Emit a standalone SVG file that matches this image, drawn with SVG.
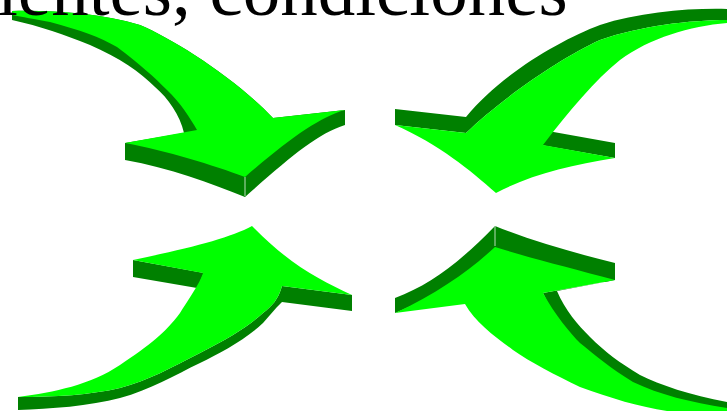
<svg xmlns="http://www.w3.org/2000/svg" width="727" height="411" viewBox="0 0 727 411">
<style>
.top{fill:#00ff00}
.side{fill:#008000}
.edge{stroke:#b8dcb8;stroke-width:1;fill:none}
.title{font-family:"Liberation Serif","Times New Roman",serif;font-size:75px;fill:#000}
</style>
<rect width="727" height="411" fill="#fff"/>
<g id="arrow-top-left">
<path class="side" d="M12,11 C50,10 100,13 140,25 C175,40 235,78 273,118 L345,110 L345,125 C317,134 290,157 245,197 C210,183 170,168 125,160 L125,143 L184,133 C180,115 168,98 155,87 C140,72 120,58 90,45 C65,35 40,26 12,20 Z"/>
<path class="top" d="M12,11 C50,10 100,13 140,25 C175,40 235,78 273,118 L345,110 C320,117 290,138 245,177 C213,165 167,151 125,143 L197,130 C190,118 180,102 167,90 C155,78 140,64 117,47 C100,37 80,30 50,22 C35,19 22,17 12,15 Z"/>
<path class="edge" d="M245,177 L245,196"/>
</g>
<g id="arrow-top-right">
<path class="side" d="M727,9 C690,8 640,12 600,25 C560,40 500,75 466,117 L395,109 L395,125 L466,133 C500,100 560,58 600,40 C640,26 690,20 727,20 Z"/>
<path class="side" d="M548,131 L615,143 L615,158 L541,145 Z"/>
<path class="top" d="M466,133 C500,100 560,58 600,40 C640,26 690,20 727,20 L727,23 C690,26 650,38 620,60 C595,80 570,110 543,145 L615,158 C570,165 530,175 496,193 C470,170 440,145 395,125 Z"/>
</g>
<g id="arrow-bottom-left">
<path class="side" d="M133,260 L133,277 L197,288 L204,273 Z"/>
<path class="side" d="M18,397 L18,410 C50,409 90,406 120,398 C150,390 175,375 200,363 C220,353 245,340 263,323 L277,307 L282,302 L352,311 L352,295 L282,286 C278,300 272,306 263,313 C250,325 230,338 200,353 C170,368 150,380 120,388 C90,395 55,397 18,397 Z"/>
<path class="top" d="M252,226 C230,238 190,248 133,260 L203,273 C200,282 195,290 180,313 C165,333 150,345 120,365 C90,385 55,392 18,397 C55,397 90,395 120,388 C150,380 170,368 200,353 C230,338 250,325 263,313 C272,306 278,300 282,286 L352,295 C320,280 290,265 252,226 Z"/>
</g>
<g id="arrow-bottom-right">
<path class="side" d="M395,298 C430,285 460,262 495,226 C530,240 570,252 615,263 L615,280 L605,282 C570,273 530,263 495,252 C470,273 440,293 400,311 L395,313 Z"/>
<path class="side" d="M615,280 L557,291 C565,310 578,325 590,337 C605,352 620,363 640,375 C660,385 690,395 727,402 L727,411 L700,411 C660,402 620,385 590,360 C570,340 555,320 543,293 Z"/>
<path class="top" d="M495,247 C530,258 570,268 615,280 L543,293 C555,315 570,333 580,343 C595,355 610,368 633,382 C660,395 690,402 727,408 L727,411 L667,411 C640,407 610,398 580,387 C555,375 530,362 513,350 C495,337 475,322 465,304 L395,313 C440,292 470,270 495,247 Z"/>
<path class="edge" d="M495,226 L495,246"/>
</g>
<text class="title" x="-3" y="15">ientes, condiciones</text>
</svg>
